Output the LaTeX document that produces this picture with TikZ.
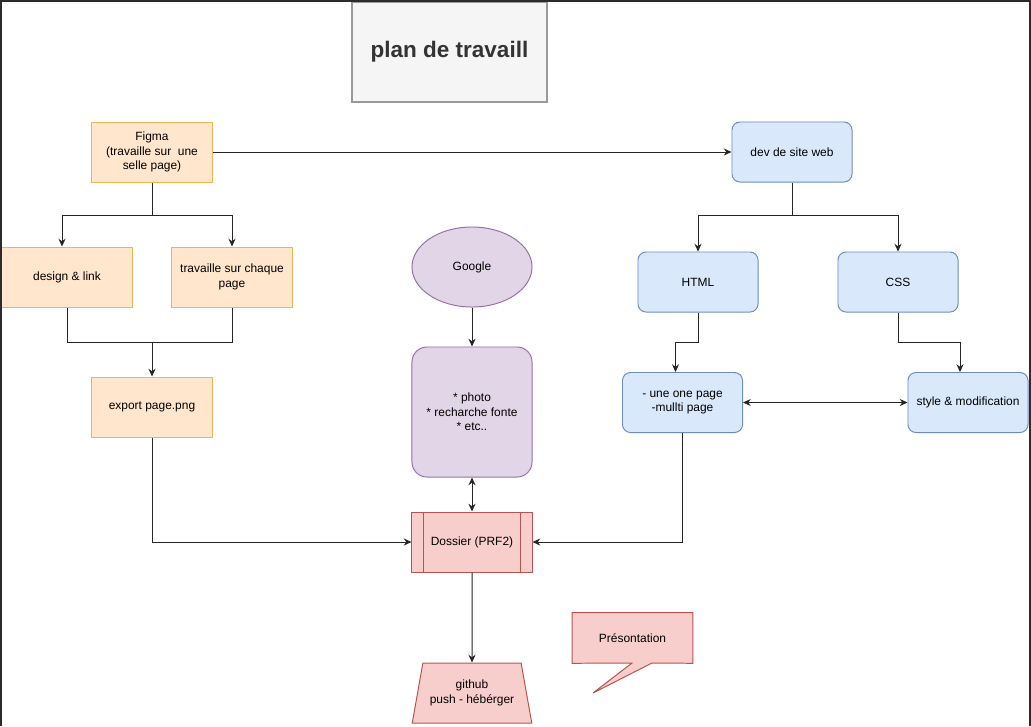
\documentclass[tikz,border=0pt]{standalone}
\usepackage{fontspec}
\setmainfont{Liberation Sans}
\usetikzlibrary{shapes.geometric,arrows.meta}
\definecolor{orangefill}{HTML}{FFE6CC}
\definecolor{orangeline}{HTML}{E6B84F}
\definecolor{bluefill}{HTML}{DAE8FC}
\definecolor{blueline}{HTML}{6C8EBF}
\definecolor{purplefill}{HTML}{E1D5E7}
\definecolor{purpleline}{HTML}{9673A6}
\definecolor{redfill}{HTML}{F8CECC}
\definecolor{redline}{HTML}{B85450}
\definecolor{titlefill}{HTML}{F5F5F5}
\definecolor{titleline}{HTML}{999999}
\definecolor{titletext}{HTML}{333333}
\definecolor{framedark}{HTML}{2B2B2B}
\tikzset{arrow/.style={draw,-{Stealth[length=5.5pt,width=5pt]},line width=0.7pt,#1}}
\tikzset{arrow/.default={black!85}}
\tikzset{dblarrow/.style={draw,{Stealth[length=5.5pt,width=5pt]}-{Stealth[length=5.5pt,width=5pt]},line width=0.7pt,black!85}}
\tikzset{wire/.style={draw,line width=0.7pt,black!85}}
\tikzset{font={\fontsize{8.5pt}{10.2pt}\selectfont}}
\tikzset{orangebox/.style={draw=orangeline,fill=orangefill,line width=0.7pt,minimum width=3cm,minimum height=1.5cm,align=center,inner sep=1pt}}
\tikzset{bluebox/.style={draw=blueline,fill=bluefill,line width=0.7pt,rounded corners=0.2cm,minimum width=3cm,minimum height=1.5cm,align=center,inner sep=1pt}}
\tikzset{purplebox/.style={draw=purpleline,fill=purplefill,line width=0.7pt,align=center,inner sep=1pt}}
\tikzset{redbox/.style={draw=redline,fill=redfill,line width=0.7pt,align=center,inner sep=1pt}}

\begin{document}
\begin{tikzpicture}[x=0.025cm,y=-0.025cm]
    \useasboundingbox[fill=white] (0,0) rectangle (1031,726);

    \node[draw=titleline,fill=titlefill,line width=0.9pt,minimum width=4.875cm,minimum height=2.5cm,text=titletext,font={\fontsize{16pt}{18pt}\selectfont\bfseries}] (title) at (449.5,52) {plan de travaill};

    % maquette
    \node[orangebox] (figma) at (152,152) {Figma\\(travaille sur\ \ une\\selle page)};
    \node[orangebox,minimum width=3.25cm] (design) at (67,277) {design \& link};
    \node[orangebox] (travaille) at (232,277) {travaille sur chaque\\page};
    \node[orangebox] (export) at (152,407) {export page.png};

    % recherches
    \node[purplebox,ellipse,minimum width=3cm,minimum height=2cm] (google) at (472,267) {Google};
    \node[purplebox,rounded corners=0.375cm,minimum width=3cm,minimum height=3.25cm] (infos) at (472,412) {* photo\\* recharche fonte\\* etc..};

    % depot
    \node[redbox,minimum width=3cm,minimum height=1.5cm] (dossier) at (472,542) {Dossier (PRF2)};
    \draw[redline,line width=0.7pt] ([xshift=0.3cm]dossier.north west) -- ([xshift=0.3cm]dossier.south west);
    \draw[redline,line width=0.7pt] ([xshift=-0.3cm]dossier.north east) -- ([xshift=-0.3cm]dossier.south east);
    \node[redbox,trapezium,trapezium angle=71.57,trapezium stretches=true,minimum width=3cm,minimum height=1.5cm] (github) at (472,693) {github\\push - hébérger};
    \node[minimum width=3cm,minimum height=1.25cm] (pres) at (632.5,638) {};
    \draw[redbox] (pres.north west) -- (pres.north east) -- (pres.south east) -- (652,663) -- (593,693) -- (632,663) -- (pres.south west) -- cycle;
    \node at (pres) {Présontation};

    % site web
    \node[bluebox] (dev) at (792,152) {dev de site web};
    \node[bluebox] (html) at (698,282) {HTML};
    \node[bluebox] (css) at (898,282) {CSS};
    \node[bluebox] (pages) at (682.5,402.5) {- une one page\\-mullti page};
    \node[bluebox] (style) at (968,402.5) {style \& modification};

    \draw[arrow] (figma) -- (dev);
    \coordinate (fsplit) at (152,215);
    \draw[wire] (figma.south) -- (fsplit);
    \draw[arrow] (fsplit) -| ([xshift=-0.125cm]design.north);
    \draw[arrow] (fsplit) -| (travaille.north);
    \coordinate (emerge) at (152,342);
    \draw[wire] (design.south) |- (emerge) -| (travaille.south);
    \draw[arrow] (emerge) -- (export.north);
    \draw[arrow] (export.south) |- (dossier.west);

    \draw[arrow] (google) -- (infos);
    \draw[dblarrow] (infos) -- (dossier);
    \draw[arrow] (dossier) -- (github);

    \coordinate (dsplit) at (792,215);
    \draw[wire] (dev.south) -- (dsplit);
    \draw[arrow] (dsplit) -| (html.north);
    \draw[arrow] (dsplit) -| (css.north);
    \draw[arrow] (html.south) -- ++(0,30) -| ([xshift=-0.175cm]pages.north);
    \draw[arrow] (css.south) -- ++(0,30) -| ([xshift=-0.2cm]style.north);
    \draw[dblarrow] (pages) -- (style);
    \draw[arrow] (pages.south) |- (dossier.east);

    % cadre
    \draw[framedark,line width=1.5pt] (1,726) -- (1,1) -- (1030,1) -- (1030,726);
\end{tikzpicture}
\end{document}
